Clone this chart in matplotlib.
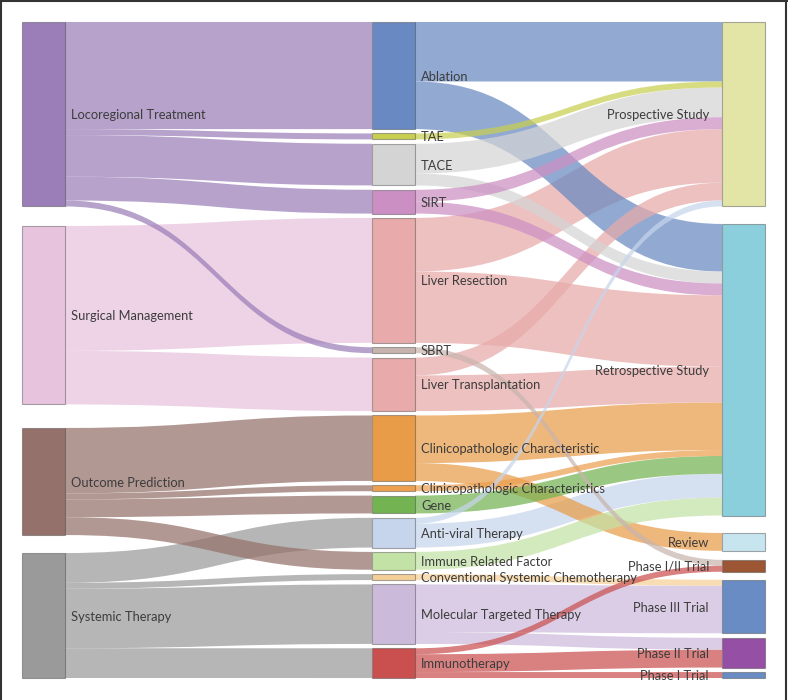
import matplotlib.pyplot as plt
from matplotlib.path import Path
from matplotlib.patches import PathPatch, Rectangle
from matplotlib.lines import Line2D

# node names per column (top to bottom)
left_nodes = ['Locoregional Treatment', 'Surgical Management', 'Outcome Prediction', 'Systemic Therapy']
mid_nodes = ['Ablation', 'TAE', 'TACE', 'SIRT', 'Liver Resection', 'SBRT', 'Liver Transplantation',
             'Clinicopathologic Characteristic', 'Clinicopathologic Characteristics', 'Gene',
             'Anti-viral Therapy', 'Immune Related Factor', 'Conventional Systemic Chemotherapy',
             'Molecular Targeted Therapy', 'Immunotherapy']
right_nodes = ['Prospective Study', 'Retrospective Study', 'Review', 'Phase I/II Trial',
               'Phase III Trial', 'Phase II Trial', 'Phase I Trial']

# links (number of studies)
link_src = ['Locoregional Treatment'] * 5 + ['Surgical Management'] * 2 + ['Outcome Prediction'] * 4 + ['Systemic Therapy'] * 4 + \
    ['Ablation', 'Ablation', 'TAE', 'TACE', 'TACE', 'SIRT', 'SIRT', 'Liver Resection', 'Liver Resection', 'SBRT',
     'Liver Transplantation', 'Liver Transplantation', 'Clinicopathologic Characteristic', 'Clinicopathologic Characteristic',
     'Clinicopathologic Characteristics', 'Gene', 'Anti-viral Therapy', 'Anti-viral Therapy', 'Immune Related Factor',
     'Conventional Systemic Chemotherapy', 'Molecular Targeted Therapy', 'Molecular Targeted Therapy',
     'Immunotherapy', 'Immunotherapy', 'Immunotherapy']
link_tgt = ['Ablation', 'TAE', 'TACE', 'SIRT', 'SBRT', 'Liver Resection', 'Liver Transplantation',
            'Clinicopathologic Characteristic', 'Clinicopathologic Characteristics', 'Gene', 'Immune Related Factor',
            'Anti-viral Therapy', 'Conventional Systemic Chemotherapy', 'Molecular Targeted Therapy', 'Immunotherapy'] + \
    ['Prospective Study', 'Retrospective Study', 'Prospective Study', 'Prospective Study', 'Retrospective Study',
     'Prospective Study', 'Retrospective Study', 'Prospective Study', 'Retrospective Study', 'Phase I/II Trial',
     'Prospective Study', 'Retrospective Study', 'Retrospective Study', 'Review',
     'Retrospective Study', 'Retrospective Study', 'Prospective Study', 'Retrospective Study', 'Retrospective Study',
     'Phase III Trial', 'Phase III Trial', 'Phase II Trial',
     'Phase I/II Trial', 'Phase II Trial', 'Phase I Trial']
link_val = [18, 1, 7, 4, 1, 21, 9, 11, 1, 3, 3, 5, 1, 10, 5] + \
    [10, 8, 1, 5, 2, 2, 2, 9, 12, 1, 3, 6, 8, 3, 1, 3, 1, 4, 3, 1, 8, 2, 1, 3, 1]

node_colors = {
    'Locoregional Treatment': '#9b7eb8', 'Surgical Management': '#e8c3de',
    'Outcome Prediction': '#94716a', 'Systemic Therapy': '#9a9a9a',
    'Ablation': '#6889c1', 'TAE': '#c8cf50', 'TACE': '#d4d4d4', 'SIRT': '#cc8fc3',
    'Liver Resection': '#e8aaaa', 'SBRT': '#c8b4ae', 'Liver Transplantation': '#e8aaaa',
    'Clinicopathologic Characteristic': '#e89c48', 'Clinicopathologic Characteristics': '#eca050',
    'Gene': '#74b352', 'Anti-viral Therapy': '#c6d4ec', 'Immune Related Factor': '#c3e2a5',
    'Conventional Systemic Chemotherapy': '#f5cf98', 'Molecular Targeted Therapy': '#ccbadb',
    'Immunotherapy': '#c9504f',
    'Prospective Study': '#e2e5a6', 'Retrospective Study': '#8ccfdc', 'Review': '#c6e5ee',
    'Phase I/II Trial': '#9c5633', 'Phase III Trial': '#6a8cc4', 'Phase II Trial': '#954fa5',
    'Phase I Trial': '#6a8cc4',
}

# layout (pixels)
W, H = 788, 700
col_x = [22, 372, 722]
node_w = 43
top = 22
unit = 5.95
col_gaps = [[19.5, 23.5, 18], [4.36] * 14, [17.5, 17.5, 9, 8, 4.5, 4.5]]
columns = [left_nodes, mid_nodes, right_nodes]

out_val = {}
in_val = {}
for s, t, v in zip(link_src, link_tgt, link_val):
    out_val[s] = out_val.get(s, 0) + v
    in_val[t] = in_val.get(t, 0) + v

node_pos = {}
order = {}
for c, names in enumerate(columns):
    y = top
    for i, n in enumerate(names):
        h = max(out_val.get(n, 0), in_val.get(n, 0)) * unit
        node_pos[n] = (col_x[c], y, h)
        order[n] = (c, i)
        y += h
        if i < len(col_gaps[c]):
            y += col_gaps[c][i]

fig = plt.figure(figsize=(W / 100, H / 100), dpi=100)
ax = fig.add_axes([0, 0, 1, 1])
ax.set_xlim(0, W)
ax.set_ylim(H, 0)
ax.axis('off')

# link offsets: outgoing sorted by target position, incoming by source position
idx = list(range(len(link_val)))
out_off = {}
in_off = {}
for n in node_pos:
    used = 0
    for k in sorted([k for k in idx if link_src[k] == n], key=lambda k: order[link_tgt[k]]):
        out_off[k] = node_pos[n][1] + used
        used += link_val[k] * unit
    used = 0
    for k in sorted([k for k in idx if link_tgt[k] == n], key=lambda k: order[link_src[k]]):
        in_off[k] = node_pos[n][1] + used
        used += link_val[k] * unit

# wider links first, thin ones on top
for k in sorted(idx, key=lambda k: -link_val[k]):
    s, t = link_src[k], link_tgt[k]
    x0 = node_pos[s][0] + node_w
    x1 = node_pos[t][0]
    xm = (x0 + x1) / 2
    h = link_val[k] * unit
    y0, y1 = out_off[k], in_off[k]
    verts = [(x0, y0), (xm, y0), (xm, y1), (x1, y1), (x1, y1 + h),
             (xm, y1 + h), (xm, y0 + h), (x0, y0 + h), (x0, y0)]
    codes = [Path.MOVETO, Path.CURVE4, Path.CURVE4, Path.CURVE4, Path.LINETO,
             Path.CURVE4, Path.CURVE4, Path.CURVE4, Path.CLOSEPOLY]
    ax.add_patch(PathPatch(Path(verts, codes), facecolor=node_colors[s], alpha=0.72, lw=0))

for n, (x, y, h) in node_pos.items():
    ax.add_patch(Rectangle((x, y), node_w, h, facecolor=node_colors[n],
                           edgecolor=(0.27, 0.27, 0.27, 0.45), lw=0.8))
    if order[n][0] < 2:
        ax.text(x + node_w + 6, y + h / 2 + 1, n, ha='left', va='center',
                fontsize=9.3, family='Lato', color='#3c3c3c')
    else:
        ax.text(x - 13, y + h / 2 + 1, n, ha='right', va='center',
                fontsize=9.3, family='Lato', color='#3c3c3c')

# frame (top, left, right)
for xs, ys in [([0, 1], [0.999, 0.999]), ([0.0015, 0.0015], [0, 1]), ([0.998, 0.998], [0, 1])]:
    fig.add_artist(Line2D(xs, ys, transform=fig.transFigure, color='#333333', lw=1.5))

fig.savefig('out.png', dpi=100)
